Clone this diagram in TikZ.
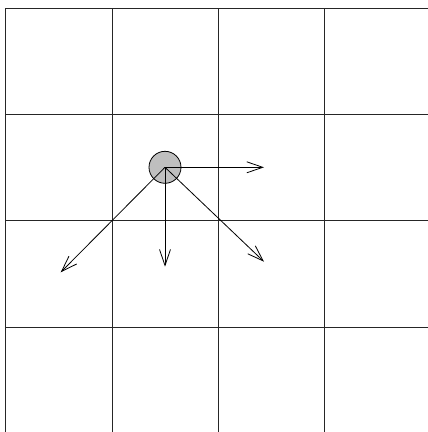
\documentclass[tikz,border=0pt]{standalone}
\usetikzlibrary{arrows.meta}
\begin{document}
\begin{tikzpicture}[x=1pt,y=-1pt,
  gridline/.style={line width=1pt,black!85},
  vec/.style={line width=0.8pt,-{Straight Barb[length=16pt,width=11pt,line width=0.8pt]}},
  particle/.style={circle,draw,line width=0.8pt,fill=black!25,minimum size=32pt,inner sep=0pt}]
\useasboundingbox (0,0) rectangle (428,432);
\begin{scope}
\clip (0,0) rectangle (428,432);
\foreach \x in {5.7,112,218.3,324.6,430.9}
  \draw[gridline] (\x,8) -- (\x,440);
\foreach \y in {8,114.3,220.7,327,433.3}
  \draw[gridline] (5.7,\y) -- (440,\y);
\end{scope}
\node[particle] (c) at (165,167.3) {};
\coordinate (e) at (264,167.3);
\coordinate (s) at (165,266.7);
\coordinate (se) at (264,261.7);
\coordinate (sw) at (60.7,272.3);
\draw[vec] (c.center) -- (e);
\draw[vec] (c.center) -- (s);
\draw[vec] (c.center) -- (se);
\draw[vec] (c.center) -- (sw);
\end{tikzpicture}
\end{document}
